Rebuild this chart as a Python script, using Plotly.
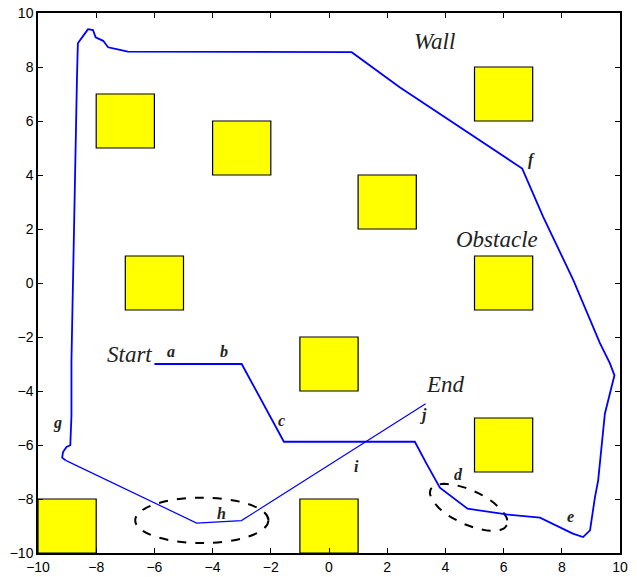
import numpy as np
import plotly.graph_objects as go

# Obstacle squares (lower-left corners, side length 2)
obstacle_x = [-8, -4, 1, 5, -7, 5, -1, 5, -10, -1]
obstacle_y = [5, 4, 2, 6, -1, -1, -4, -7, -10, -10]
obstacle_size = 2

# Robot path: Start (a) -> b -> c -> d -> e -> f -> along the wall -> g
path_x = [-6.0, -3.0, -1.55, 2.95, 3.35, 3.81, 4.76, 6.10, 7.25, 7.81, 8.38, 8.73,
          8.97, 9.14, 9.25, 9.48, 9.77, 9.81, 9.65, 9.31, 8.40, 7.36, 6.64, 2.43,
          0.78, -6.91, -7.30, -7.59, -7.76, -8.02, -8.11, -8.28, -8.43, -8.63,
          -8.66, -8.70, -8.74, -8.77, -8.82, -8.85, -8.85, -8.89, -9.02, -9.14,
          -9.17, -9.05]
path_y = [-3.0, -3.0, -5.88, -5.88, -6.69, -7.58, -8.36, -8.57, -8.69, -8.98, -9.28,
          -9.41, -9.16, -7.93, -7.31, -4.84, -3.60, -3.42, -2.97, -2.23, 0.10, 2.45,
          4.24, 7.25, 8.55, 8.57, 8.66, 8.73, 8.97, 9.10, 9.37, 9.40, 9.18, 8.88,
          7.64, 5.54, 3.44, 1.34, -0.76, -2.86, -4.90, -6.01, -6.07, -6.26, -6.47,
          -6.57]

# Final leg: g -> h -> i -> j (End)
tail_x = [-9.05, -4.55, -3.01, 3.32]
tail_y = [-6.57, -8.89, -8.80, -4.47]

# Italic captions
caption_text = ["Wall", "Obstacle", "Start", "End"]
caption_x = [3.64, 5.77, -6.85, 4.02]
caption_y = [8.95, 1.60, -2.64, -3.75]

# Waypoint letters
letter_text = ["a", "b", "c", "d", "e", "f", "g", "h", "i", "j"]
letter_x = [-5.44, -3.62, -1.62, 4.46, 8.31, 6.97, -9.32, -3.69, 0.96, 3.23]
letter_y = [-2.53, -2.53, -5.09, -7.09, -8.64, 4.55, -5.20, -8.53, -6.79, -4.90]

# Dashed ellipses highlighting regions h and d
ell_h_center = (-4.37, -8.79)
ell_h_radii = (2.29, 0.84)
ell_d_center = (4.80, -8.31)
ell_d_major = (1.31, -0.66)   # semi-major axis vector
ell_d_minor = (-0.25, -0.57)  # semi-minor axis vector

fig = go.Figure()

shapes = []
for ox, oy in zip(obstacle_x, obstacle_y):
    shapes.append(dict(type="rect", xref="x", yref="y",
                       x0=ox, y0=oy, x1=ox + obstacle_size, y1=oy + obstacle_size,
                       fillcolor="#FFFF00", line=dict(color="black", width=1.2),
                       layer="below"))

shapes.append(dict(type="circle", xref="x", yref="y",
                   x0=ell_h_center[0] - ell_h_radii[0], x1=ell_h_center[0] + ell_h_radii[0],
                   y0=ell_h_center[1] - ell_h_radii[1], y1=ell_h_center[1] + ell_h_radii[1],
                   line=dict(color="black", width=2, dash="dash")))

t = np.linspace(0, 2 * np.pi, 73)
ex = ell_d_center[0] + np.cos(t) * ell_d_major[0] + np.sin(t) * ell_d_minor[0]
ey = ell_d_center[1] + np.cos(t) * ell_d_major[1] + np.sin(t) * ell_d_minor[1]
fig.add_trace(go.Scatter(x=ex, y=ey, mode="lines",
                         line=dict(color="black", width=2, dash="dash"),
                         hoverinfo="skip", showlegend=False))

fig.add_trace(go.Scatter(x=path_x, y=path_y, mode="lines",
                         line=dict(color="#0000FF", width=1.8), showlegend=False))
fig.add_trace(go.Scatter(x=tail_x, y=tail_y, mode="lines",
                         line=dict(color="#0000FF", width=1.2), showlegend=False))

annotations = []
for txt, x, y in zip(caption_text, caption_x, caption_y):
    annotations.append(dict(x=x, y=y, xref="x", yref="y", text=f"<i>{txt}</i>",
                            showarrow=False,
                            font=dict(family="Liberation Serif", size=23, color="#222222")))
for txt, x, y in zip(letter_text, letter_x, letter_y):
    annotations.append(dict(x=x, y=y, xref="x", yref="y", text=f"<b><i>{txt}</i></b>",
                            showarrow=False,
                            font=dict(family="Liberation Serif", size=16, color="#222222")))

axis_common = dict(showgrid=False, zeroline=False, showline=True, linecolor="black",
                   linewidth=1.5, mirror="ticks", ticks="inside", ticklen=5,
                   tickcolor="black", tickwidth=1, automargin=False,
                   tickfont=dict(family="Liberation Sans", size=14, color="black"))

fig.update_layout(
    width=637, height=577,
    margin=dict(l=38, r=17, t=13, b=24),
    paper_bgcolor="white", plot_bgcolor="white",
    shapes=shapes, annotations=annotations,
    xaxis=dict(range=[-10, 10], dtick=2, **axis_common),
    yaxis=dict(range=[-10, 10], dtick=2, **axis_common),
)

fig.write_html("out.html")
